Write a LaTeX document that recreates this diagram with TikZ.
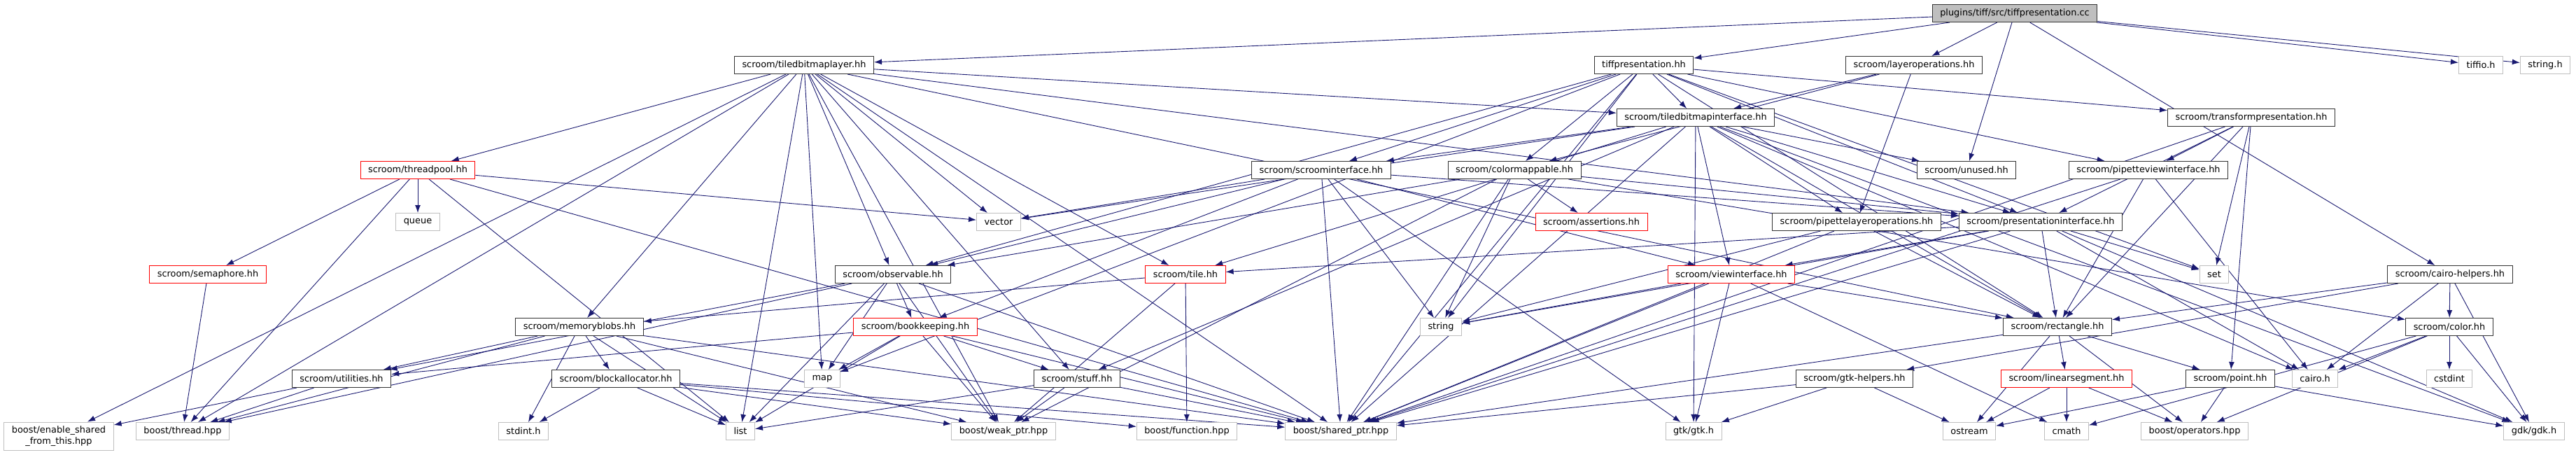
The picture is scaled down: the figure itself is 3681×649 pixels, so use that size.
\documentclass[tikz,border=0pt]{standalone}
\usepackage{fontspec}
\setmainfont{DejaVu Sans}
\usetikzlibrary{arrows.meta,backgrounds}
\definecolor{edgeblue}{HTML}{191970}
\definecolor{sysgray}{HTML}{BFBFBF}

\begin{document}
\begin{tikzpicture}[x=1pt,y=-1pt,
  hdr/.style={draw=black!80,fill=white,line width=1pt,inner xsep=11pt,inner ysep=0pt,minimum height=25pt,font=\fontsize{12.9}{15.5}\selectfont},
  trunc/.style={hdr,draw=red},
  sys/.style={hdr,draw=sysgray},
  srcfile/.style={hdr,fill=sysgray},
  dep/.style={draw=edgeblue,line width=0.9pt,-{Latex[length=11pt,width=8pt]}}]
\useasboundingbox (0,0) rectangle (3681,649);
% rank 0 and 1
\node[srcfile] (root) at (2879,19) {plugins/tiff/src/tiffpresentation.cc};
\node[hdr] (tbl) at (1149,93) {scroom/tiledbitmaplayer.hh};
\node[hdr] (tph) at (2349,93) {tiffpresentation.hh};
\node[hdr] (lop) at (2735,93) {scroom/layeroperations.hh};
\node[sys] (tiffio) at (3545,93) {tiffio.h};
\node[sys] (stringh) at (3637,93) {string.h};
% rank 2 and 3
\node[hdr] (tbi) at (2423,168) {scroom/tiledbitmapinterface.hh};
\node[hdr] (tfp) at (3217,168) {scroom/transformpresentation.hh};
\node[trunc] (tpool) at (597,243) {scroom/threadpool.hh};
\node[hdr] (sci) at (1888,243) {scroom/scroominterface.hh};
\node[hdr] (cmap) at (2164,243) {scroom/colormappable.hh};
\node[hdr] (unused) at (2810,243) {scroom/unused.hh};
\node[hdr] (pvi) at (3070,243) {scroom/pipetteviewinterface.hh};
% rank 4 and 5
\node[sys] (queue) at (597,317) {queue};
\node[sys] (vector) at (1427,317) {vector};
\node[trunc] (asrt) at (2274,317) {scroom/assertions.hh};
\node[hdr] (plo) at (2653,317) {scroom/pipettelayeroperations.hh};
\node[hdr] (pri) at (2916,317) {scroom/presentationinterface.hh};
\node[trunc] (sem) at (297,392) {scroom/semaphore.hh};
\node[hdr] (obs) at (1276,392) {scroom/observable.hh};
\node[trunc] (tile) at (1694,392) {scroom/tile.hh};
\node[trunc] (viewi) at (2474,392) {scroom/viewinterface.hh};
\node[sys] (set) at (3164,392) {set};
\node[hdr] (cairoh) at (3501,392) {scroom/cairo-helpers.hh};
% rank 6 and 7
\node[hdr] (mblob) at (828,467) {scroom/memoryblobs.hh};
\node[trunc] (bkeep) at (1308,467) {scroom/bookkeeping.hh};
\node[sys] (string) at (2059,467) {string};
\node[hdr] (rect) at (2940,467) {scroom/rectangle.hh};
\node[hdr] (color) at (3500,467) {scroom/color.hh};
\node[hdr] (util) at (488,541) {scroom/utilities.hh};
\node[hdr] (balloc) at (880,541) {scroom/blockallocator.hh};
\node[sys] (map) at (1175,541) {map};
\node[hdr] (stuff) at (1539,541) {scroom/stuff.hh};
\node[hdr] (gtkh) at (2650,541) {scroom/gtk-helpers.hh};
\node[trunc] (lseg) at (2953,541) {scroom/linearsegment.hh};
\node[hdr] (point) at (3187,541) {scroom/point.hh};
\node[sys] (cairo) at (3308,541) {cairo.h};
\node[sys] (cstdint) at (3500,541) {cstdint};
% rank 8
\node[sys,align=center,minimum height=40pt] (esft) at (84,623) {boost/enable\_shared\\\_from\_this.hpp};
\node[sys] (bthread) at (261,616) {boost/thread.hpp};
\node[sys] (stdint) at (748,616) {stdint.h};
\node[sys] (list) at (1058,616) {list};
\node[sys] (wptr) at (1434,616) {boost/weak\_ptr.hpp};
\node[sys] (bfunc) at (1696,616) {boost/function.hpp};
\node[sys] (sptr) at (1916,616) {boost/shared\_ptr.hpp};
\node[sys] (gtk) at (2420,616) {gtk/gtk.h};
\node[sys] (ostream) at (2814,616) {ostream};
\node[sys] (cmath) at (2953,616) {cmath};
\node[sys] (bops) at (3136,616) {boost/operators.hpp};
\node[sys] (gdk) at (3621,616) {gdk/gdk.h};

\begin{scope}[on background layer]
\foreach \t in {tbl,tph,lop,unused,tiffio,stringh,cairoh} \draw[dep] (root) -- (\t);
\foreach \t in {esft,bthread,tpool,mblob,vector,map,list,obs,tile,stuff,wptr,sptr,tbi,pri,rect} \draw[dep] (tbl) -- (\t);
\foreach \t in {tbi,tfp,sci,cmap,pvi,pri,set,rect,obs,string,map,sptr} \draw[dep] (tph) -- (\t);
\foreach \t in {tbi,cmap,plo} \draw[dep] (lop) -- (\t);
\foreach \t in {vector,tile,stuff,sci,viewi,gtk,pri,plo,rect,unused,cairo,gdk,sptr} \draw[dep] (tbi) -- (\t);
\foreach \t in {pvi,pri,rect,point,set,sptr} \draw[dep] (tfp) -- (\t);
\foreach \t in {queue,sem,bthread,list,vector,sptr} \draw[dep] (tpool) -- (\t);
\foreach \t in {vector,obs,bkeep,string,sptr,gtk,viewi,pri} \draw[dep] (sci) -- (\t);
\foreach \t in {asrt,string,sptr,obs,pri,color,wptr} \draw[dep] (cmap) -- (\t);
\foreach \t in {rect,cairo,sptr} \draw[dep] (pvi) -- (\t);
\foreach \t in {string,sptr,rect} \draw[dep] (plo) -- (\t);
\foreach \t in {viewi,rect,set,cairo,gdk,sptr,string,tile} \draw[dep] (pri) -- (\t);
\draw[dep] (sem) -- (bthread);
\foreach \t in {bkeep,map,list,wptr,sptr,bthread,util} \draw[dep] (obs) -- (\t);
\foreach \t in {mblob,wptr,bfunc} \draw[dep] (tile) -- (\t);
\foreach \t in {string,sptr,gtk,rect,cmath} \draw[dep] (viewi) -- (\t);
\foreach \t in {rect,cairo,color,gdk,gtkh} \draw[dep] (cairoh) -- (\t);
\foreach \t in {util,bthread,stdint,balloc,list,wptr,sptr} \draw[dep] (mblob) -- (\t);
\foreach \t in {util,map,list,wptr,stuff,sptr} \draw[dep] (bkeep) -- (\t);
\foreach \t in {ostream,lseg,point,bops,sptr} \draw[dep] (rect) -- (\t);
\foreach \t in {cairo,cstdint,gdk,cmath,bops} \draw[dep] (color) -- (\t);
\foreach \t in {esft,bthread} \draw[dep] (util) -- (\t);
\foreach \t in {stdint,list,wptr,sptr,bfunc} \draw[dep] (balloc) -- (\t);
\foreach \t in {list,wptr,sptr} \draw[dep] (stuff) -- (\t);
\foreach \t in {gtk,ostream,sptr} \draw[dep] (gtkh) -- (\t);
\foreach \t in {ostream,cmath,bops} \draw[dep] (lseg) -- (\t);
\foreach \t in {ostream,bops,gdk} \draw[dep] (point) -- (\t);
\end{scope}
\end{tikzpicture}
\end{document}
